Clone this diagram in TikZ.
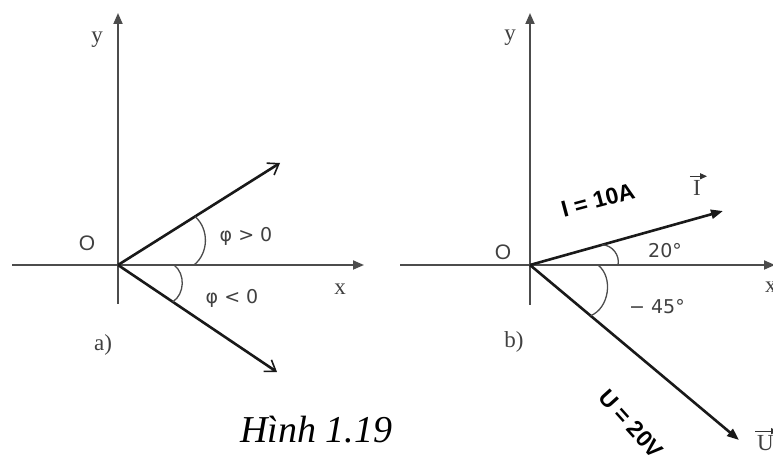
\documentclass[tikz,border=0pt]{standalone}
\usepackage{fontspec}
\setmainfont{Liberation Serif}
\newfontfamily\lsans{Liberation Sans}
\newfontfamily\dsans{DejaVu Sans}
\usetikzlibrary{arrows.meta,calc}
\begin{document}
\begin{tikzpicture}[x=1pt,y=1pt,
  axis/.style={draw=black!70, line width=1.8pt, -{Triangle[length=11pt,width=9pt]}},
  vecA/.style={draw=black!90, line width=2.6pt, -{Straight Barb[length=10pt,width=14pt,line width=1.6pt]}},
  vecB/.style={draw=black!90, line width=2.6pt, -{Triangle[length=12pt,width=9pt]}},
  arcst/.style={draw=black!70, line width=1.3pt},
  overarrow/.style={draw=black!80, line width=1.2pt, -{Triangle[length=7pt,width=6pt]}},
  lbl/.style={font=\fontsize{23}{25}\selectfont, text=black!75, inner sep=0pt},
  lbls/.style={font=\lsans\fontsize{21}{23}\selectfont, text=black!75, inner sep=0pt},
  phil/.style={font=\dsans\fontsize{19}{21}\selectfont, text=black!75, inner sep=0pt},
  big/.style={font=\lsans\bfseries\fontsize{23}{25}\selectfont, inner sep=0pt}]
\useasboundingbox (0,0) rectangle (773,468);
% ---------- panel a ----------
\coordinate (Oa) at (118,203);
\coordinate (ya) at (118,455);
\coordinate (yb) at (118,164);
\coordinate (xa) at (12,203);
\coordinate (xb) at (364,203);
\coordinate (pa) at (280,305);
\coordinate (qa) at (277,96);
\draw[axis] (yb) -- (ya);
\draw[axis] (xa) -- (xb);
\draw[vecA] (Oa) -- (pa);
\draw[vecA] (Oa) -- (qa);
\coordinate (a1) at ($(Oa)!91pt!(pa)$);
\coordinate (a2) at ($(Oa)!76pt!(xb)$);
\draw[arcst] (a1) to[bend left=50] (a2);
\coordinate (b1) at ($(Oa)!56pt!(xb)$);
\coordinate (b2) at ($(Oa)!66pt!(qa)$);
\draw[arcst] (b1) to[bend left=55] (b2);
\node[lbl] (ylA) at (97,428) {y};
\node[lbls] (oA) at (87,225) {O};
\node[lbl] (xlA) at (340,179) {x};
\node[phil] (phi1) at (246,232) {φ > 0};
\node[phil] (phi2) at (232,170) {φ < 0};
\node[lbl] (la) at (103,123) {a)};
% ---------- panel b ----------
\coordinate (Ob) at (530,203);
\coordinate (yc) at (530,455);
\coordinate (yd) at (530,163);
\coordinate (xc) at (400,203);
\coordinate (xd) at (775,203);
\coordinate (pI) at (723,257);
\coordinate (pU) at (739,28);
\draw[axis] (yd) -- (yc);
\draw[axis] (xc) -- (xd);
\draw[vecB] (Ob) -- (pI);
\draw[vecB] (Ob) -- (pU);
\coordinate (c1) at ($(Ob)!75pt!(pI)$);
\coordinate (c2) at ($(Ob)!88pt!(xd)$);
\draw[arcst] (c1) to[bend left=50] (c2);
\coordinate (d1) at ($(Ob)!68pt!(xd)$);
\coordinate (d2) at ($(Ob)!79pt!(pU)$);
\draw[arcst] (d1) to[bend left=60] (d2);
\node[lbl] (ylB) at (510,430) {y};
\node[lbls] (oB) at (503,216) {O};
\node[lbl, anchor=west] (xlB) at (765,181) {x};
\node[big, rotate=15] (Ilab) at (598,268) {I = 10A};
\node[lbl] (Ivec) at (697,280) {I};
\draw[overarrow] ([xshift=-3pt,yshift=4pt]Ivec.north west) -- ([xshift=6pt,yshift=4pt]Ivec.north east);
\node[phil] (ang20) at (665,217) {20°};
\node[phil] (ang45) at (657,161) {− 45°};
\node[lbl] (lb) at (514,126) {b)};
\node[big, rotate=-48] (Ulab) at (631,44) {U = 20V};
\node[lbl, anchor=west] (Uvec) at (757,25) {U};
\draw[overarrow] ([xshift=-2pt,yshift=4pt]Uvec.north west) -- ([xshift=4pt,yshift=4pt]Uvec.north east);
% ---------- caption ----------
\node[font=\itshape\fontsize{38}{42}\selectfont, inner sep=0pt] (cap) at (316,38) {Hình 1.19};
\end{tikzpicture}
\end{document}
